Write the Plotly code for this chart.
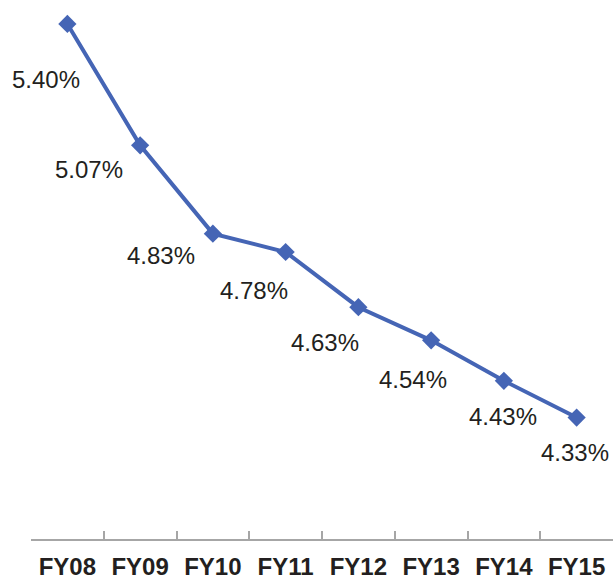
import plotly.graph_objects as go

categories = ["FY08", "FY09", "FY10", "FY11", "FY12", "FY13", "FY14", "FY15"]
values = [5.40, 5.07, 4.83, 4.78, 4.63, 4.54, 4.43, 4.33]
labels = ["5.40%", "5.07%", "4.83%", "4.78%", "4.63%", "4.54%", "4.43%", "4.33%"]

# label offsets in pixels (layout only)
label_dx = [-21, -51, -52, -32, -33, -18, -1, -2]
label_dy = [-56, -24, -22, -38, -35, -39, -36, -35]

line_color = "#4565B5"

fig = go.Figure()
fig.add_trace(go.Scatter(
    x=categories, y=values, mode="lines+markers",
    line=dict(color=line_color, width=4),
    marker=dict(symbol="diamond", size=14, color=line_color),
    hoverinfo="skip", showlegend=False, cliponaxis=False,
))

for c, v, t, dx, dy in zip(categories, values, labels, label_dx, label_dy):
    fig.add_annotation(
        x=c, y=v, text=t, showarrow=False,
        xshift=dx, yshift=dy,
        font=dict(family="Liberation Sans, Arial", size=24, color="#231f20"),
    )

fig.update_layout(
    width=614, height=579,
    margin=dict(l=31, r=1, t=0, b=40, autoexpand=False),
    paper_bgcolor="white", plot_bgcolor="white",
    xaxis=dict(
        type="category", range=[-0.5, 7.5], automargin=False,
        showline=True, linecolor="#a6a6a6", linewidth=2,
        ticks="inside", tickson="boundaries", ticklen=8, tickwidth=1.5, tickcolor="#a6a6a6",
        showgrid=False, zeroline=False,
        tickfont=dict(family="Liberation Sans, Arial", size=24, color="#231f20", weight="bold"),
        ticklabelstandoff=5,
    ),
    yaxis=dict(range=[4.0, 5.465], visible=False, showgrid=False, zeroline=False, automargin=False),
)

fig.write_html(
    "out.html",
    config={"displayModeBar": False},
    post_script="document.body.style.margin='0';document.body.style.overflow='hidden';",
)
